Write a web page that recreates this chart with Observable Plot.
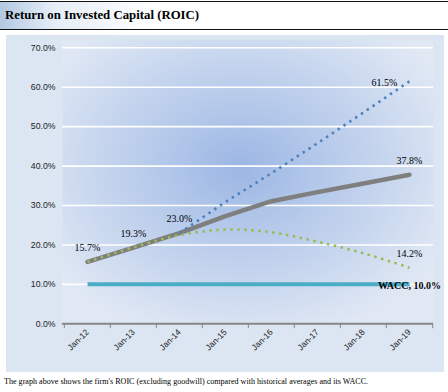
<!DOCTYPE html>
<html>
<head>
<meta charset="utf-8">
<script src="https://cdn.jsdelivr.net/npm/d3@7"></script>
<script src="https://cdn.jsdelivr.net/npm/@observablehq/plot@0.6"></script>
<style>
  html, body { margin: 0; padding: 0; background: #fff; width: 448px; height: 392px; overflow: hidden; }
  #title {
    position: absolute; left: 0; top: 1px; width: 448px; height: 29px;
    border-top: 1.5px solid #111; border-bottom: 1.5px solid #111;
    background: linear-gradient(to right, #b3c8e2 0%, #e6edf6 12%, #ffffff 35%);
    font: bold 12.8px "Liberation Serif", "Times New Roman", serif; color: #000;
    box-sizing: border-box; padding: 6px 0 0 5px;
  }
  #chart { position: absolute; left: 6px; top: 35px; }
  #caption {
    position: absolute; left: 4px; top: 377px;
    font: 8.1px "Liberation Serif", "Times New Roman", serif; color: #000; white-space: nowrap;
  }
</style>
</head>
<body>
<div id="title">Return on Invested Capital (ROIC)</div>
<div id="chart"></div>
<div id="caption">The graph above shows the firm's ROIC (excluding goodwill) compared with historical averages and its WACC.</div>
<script>
const categories = ["Jan-12", "Jan-13", "Jan-14", "Jan-15", "Jan-16", "Jan-17", "Jan-18", "Jan-19"];
const roic = [15.7, 19.3, 23.0, 27.3, 31.1, 33.4, 35.6, 37.8];
const trendUp = [null, null, 23.0, 30.9, 38.2, 45.8, 53.6, 61.5];
const trendDown = [15.7, 19.4, 22.5, 23.9, 23.2, 20.8, 17.9, 14.2];
const wacc = [10.0, 10.0, 10.0, 10.0, 10.0, 10.0, 10.0, 10.0];
const yTicks = [0, 10, 20, 30, 40, 50, 60, 70];

const roicLabelCats = ["Jan-12", "Jan-13", "Jan-14", "Jan-19"];
const waccLabel = "WACC, 10.0%";

const W = 438, H = 337;
const mL = 56, mR = 11, mT = 12.3, mB = 48.7;
const step = (W - mL - mR) / categories.length;

const rows = categories.map((c, i) => ({cat: c, roic: roic[i], up: trendUp[i], down: trendDown[i], wacc: wacc[i]}));
const fmt = v => v.toFixed(1) + "%";
const serif = "Liberation Serif, Times New Roman, serif";

const plot = Plot.plot({
  width: W, height: H,
  marginLeft: mL, marginRight: mR, marginTop: mT, marginBottom: mB,
  style: {background: "#dce6f2", fontFamily: "Liberation Sans, Arial, sans-serif", overflow: "visible"},
  x: {type: "point", domain: categories, padding: 0.5},
  y: {domain: [0, 70]},
  marks: [
    Plot.frame({fill: "url(#plotGrad)", stroke: "none", insetTop: -8}),
    Plot.ruleY(yTicks.filter(d => d > 0), {stroke: "#ffffff", strokeWidth: 1.6}),
    Plot.ruleY([0], {stroke: "#868686", strokeWidth: 2}),
    Plot.ruleX(categories, {x: d => d, y1: 0, y2: -1.25, dx: -step / 2, stroke: "#868686", strokeWidth: 1}),
    Plot.ruleX(categories.slice(-1), {x: d => d, y1: 0, y2: -1.25, dx: step / 2, stroke: "#868686", strokeWidth: 1}),
    Plot.axisY({ticks: yTicks, tickFormat: fmt, tickSize: 0, tickPadding: 7, fontSize: 8.7, fill: "#222", label: null}),
    Plot.axisX({tickRotate: -45, tickSize: 0, tickPadding: 7, fontSize: 8.5, fill: "#222", label: null}),
    Plot.line(rows, {x: "cat", y: "wacc", stroke: "#4bacc6", strokeWidth: 4, strokeLinecap: "butt"}),
    Plot.line(rows, {x: "cat", y: "roic", stroke: "#7f7f7f", strokeWidth: 4.5}),
    Plot.line(rows, {x: "cat", y: "down", curve: "catmull-rom", stroke: "#9bbb59", strokeWidth: 2.6, strokeDasharray: "2.5 4.5", strokeLinecap: "butt"}),
    Plot.line(rows.filter(d => d.up != null), {x: "cat", y: "up", stroke: "#4f81bd", strokeWidth: 2.6, strokeDasharray: "2.5 4.5", strokeLinecap: "butt"}),
    Plot.text(rows.filter(d => roicLabelCats.includes(d.cat)), {x: "cat", y: "roic", text: d => fmt(d.roic), dy: -14, fontSize: 10, fontFamily: serif, fill: "#000"}),
    Plot.text(rows.slice(-1), {x: "cat", y: "up", text: d => fmt(d.up), dx: -25, dy: 1, fontSize: 10, fontFamily: serif, fill: "#000"}),
    Plot.text(rows.slice(-1), {x: "cat", y: "down", text: d => fmt(d.down), dy: -14, fontSize: 10, fontFamily: serif, fill: "#000"}),
    Plot.text(rows.slice(-1), {x: "cat", y: "wacc", text: () => waccLabel, dy: 1, fontSize: 10, fontWeight: "bold", fontFamily: serif, fill: "#000"})
  ]
});

const svg = d3.select(plot);
const defs = svg.insert("defs", ":first-child");
const g = defs.append("radialGradient").attr("id", "plotGrad")
  .attr("cx", "48%").attr("cy", "45%").attr("r", "62%");
g.append("stop").attr("offset", "0%").attr("stop-color", "#9cb7e4");
g.append("stop").attr("offset", "100%").attr("stop-color", "#e0e8f4");

document.getElementById("chart").appendChild(plot);
</script>
</body>
</html>
